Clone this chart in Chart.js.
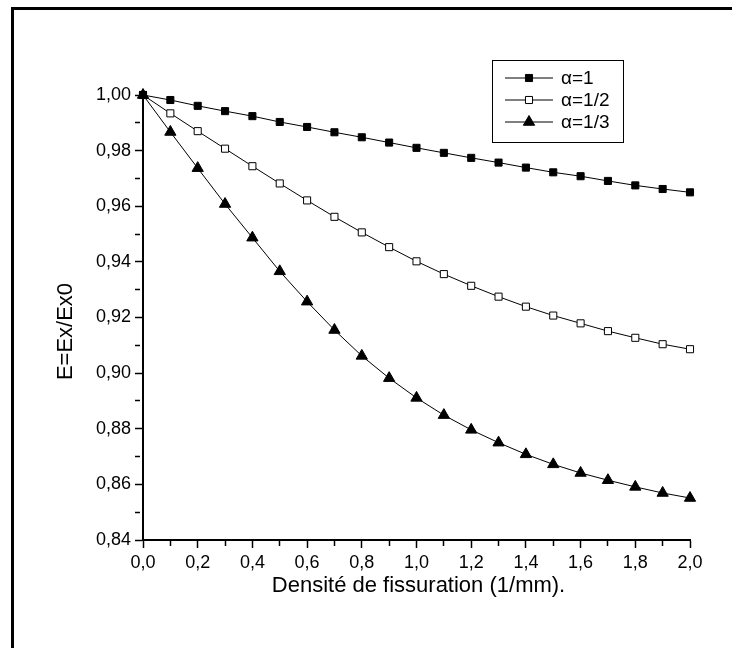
<!DOCTYPE html>
<html>
<head>
<meta charset="utf-8">
<script src="https://cdn.jsdelivr.net/npm/chart.js@4.4.0/dist/chart.umd.min.js"></script>
<style>
html, body { margin: 0; padding: 0; background: #fff; }
#wrap { position: relative; width: 732px; height: 648px; }
</style>
</head>
<body>
<div id="wrap"><canvas id="modulusChart" width="732" height="648"></canvas></div>
<script>
// crack density (1/mm)
var densities = [0.0, 0.1, 0.2, 0.3, 0.4, 0.5, 0.6, 0.7, 0.8, 0.9, 1.0,
                 1.1, 1.2, 1.3, 1.4, 1.5, 1.6, 1.7, 1.8, 1.9, 2.0];

// E = Ex/Ex0 for each alpha
var alpha1 = [1.000, 0.9982, 0.9961, 0.9942, 0.9924, 0.9903, 0.9885, 0.9866, 0.9848, 0.9829, 0.9810,
              0.9792, 0.9774, 0.9757, 0.9739, 0.9722, 0.9708, 0.9691, 0.9675, 0.9662, 0.9650];
var alphaHalf = [1.000, 0.9934, 0.9870, 0.9807, 0.9744, 0.9682, 0.9621, 0.9562, 0.9506, 0.9453, 0.9402,
                 0.9356, 0.9314, 0.9275, 0.9239, 0.9207, 0.9179, 0.9151, 0.9127, 0.9104, 0.9086];
var alphaThird = [1.000, 0.9867, 0.9737, 0.9608, 0.9487, 0.9366, 0.9257, 0.9155, 0.9062, 0.8982, 0.8911,
                  0.8849, 0.8796, 0.8750, 0.8708, 0.8672, 0.8641, 0.8615, 0.8591, 0.8569, 0.8551];

var xTickLabels = ['0,0', '0,2', '0,4', '0,6', '0,8', '1,0', '1,2', '1,4', '1,6', '1,8', '2,0'];
var yTickLabels = ['0,84', '0,86', '0,88', '0,90', '0,92', '0,94', '0,96', '0,98', '1,00'];

var xTitle = 'Densité de fissuration (1/mm).';
var yTitle = 'E=Ex/Ex0';

var FONT = 'Arial, "Liberation Sans", Helvetica, sans-serif';

function toPoints(ys) {
    return densities.map(function (x, i) { return { x: x, y: ys[i] }; });
}

// outer frame of the figure
var framePlugin = {
    id: 'frame',
    beforeDraw: function (chart) {
        var ctx = chart.ctx;
        ctx.save();
        ctx.fillStyle = '#fff';
        ctx.fillRect(0, 0, chart.width, chart.height);
        ctx.fillStyle = '#000';
        ctx.fillRect(11, 7, 3, chart.height - 7);
        ctx.fillRect(11, 7, chart.width - 11, 3);
        ctx.restore();
    }
};

// axis titles (the y title sits a bit below the middle, as in the original)
var axisTitles = {
    id: 'axisTitles',
    afterDraw: function (chart) {
        var ctx = chart.ctx;
        var area = chart.chartArea;
        ctx.save();
        ctx.fillStyle = '#000';
        ctx.font = '22px ' + FONT;
        ctx.textAlign = 'center';
        ctx.textBaseline = 'middle';
        ctx.fillText(xTitle, (area.left + area.right) / 2 + 2, 586);
        ctx.translate(66, (area.top + area.bottom) / 2 + 14);
        ctx.rotate(-Math.PI / 2);
        ctx.fillText(yTitle, 0, 0);
        ctx.restore();
    }
};

// boxed legend inside the plot, line + marker samples
var boxLegend = {
    id: 'boxLegend',
    afterDatasetsDraw: function (chart) {
        var ctx = chart.ctx;
        ctx.save();
        ctx.strokeStyle = '#000';
        ctx.lineWidth = 1;
        ctx.strokeRect(492.5, 60.5, 131, 82);
        chart.data.datasets.forEach(function (ds, i) {
            var y = 78 + 22 * i;
            ctx.beginPath();
            ctx.moveTo(505, y);
            ctx.lineTo(553, y);
            ctx.strokeStyle = ds.borderColor;
            ctx.lineWidth = 1;
            ctx.stroke();
            ctx.fillStyle = ds.pointBackgroundColor;
            ctx.strokeStyle = ds.pointBorderColor;
            ctx.lineWidth = ds.pointBorderWidth;
            Chart.helpers.drawPoint(ctx, {
                pointStyle: ds.pointStyle,
                radius: ds.pointRadius,
                borderWidth: ds.pointBorderWidth,
                rotation: 0
            }, 529, y);
            ctx.fillStyle = '#000';
            ctx.font = '19px ' + FONT;
            ctx.textBaseline = 'middle';
            ctx.textAlign = 'left';
            ctx.fillText(ds.label, 561, y + 1);
        });
        ctx.restore();
    }
};

function series(label, ys, style, fill, radius) {
    return {
        label: label,
        data: toPoints(ys),
        borderColor: '#000',
        borderWidth: 1,
        tension: 0,
        pointStyle: style,
        pointRadius: radius,
        pointHoverRadius: radius,
        pointBackgroundColor: fill,
        pointBorderColor: '#000',
        pointBorderWidth: 1,
        clip: false
    };
}

var ctx = document.getElementById('modulusChart').getContext('2d');
var modulusChart = new Chart(ctx, {
    type: 'line',
    data: {
        datasets: [
            series('\u03b1=1', alpha1, 'rect', '#000', 5),
            series('\u03b1=1/2', alphaHalf, 'rect', '#fff', 5),
            series('\u03b1=1/3', alphaThird, 'triangle', '#000', 6.5)
        ]
    },
    options: {
        responsive: false,
        animation: false,
        events: [],
        layout: { padding: { top: 95, right: 42, left: 0, bottom: 0 } },
        plugins: {
            legend: { display: false },
            tooltip: { enabled: false }
        },
        scales: {
            x: {
                type: 'linear',
                min: 0,
                max: 2,
                afterFit: function (scale) { scale.height = 108; },
                border: { display: true, color: '#000', width: 2 },
                grid: {
                    drawOnChartArea: false,
                    drawTicks: true,
                    tickLength: 8,
                    tickColor: '#000',
                    tickWidth: 1.5,
                    tickBorderDash: function (c) { return c.index % 2 ? [5, 20] : []; }
                },
                ticks: {
                    stepSize: 0.1,
                    autoSkip: false,
                    maxRotation: 0,
                    padding: 4,
                    color: '#000',
                    font: { family: FONT, size: 18 },
                    callback: function (v, i) { return i % 2 ? '' : xTickLabels[i / 2]; }
                }
            },
            y: {
                type: 'linear',
                min: 0.84,
                max: 1.0,
                afterFit: function (scale) { scale.width = 143; },
                border: { display: true, color: '#000', width: 2 },
                grid: {
                    drawOnChartArea: false,
                    drawTicks: true,
                    tickLength: 8,
                    tickColor: '#000',
                    tickWidth: 1.5,
                    tickBorderDash: function (c) { return c.index % 2 ? [5, 20] : []; }
                },
                ticks: {
                    stepSize: 0.01,
                    autoSkip: false,
                    padding: 4,
                    color: '#000',
                    font: { family: FONT, size: 18 },
                    callback: function (v, i) { return i % 2 ? '' : yTickLabels[i / 2]; }
                }
            }
        }
    },
    plugins: [framePlugin, axisTitles, boxLegend]
});
</script>
</body>
</html>
